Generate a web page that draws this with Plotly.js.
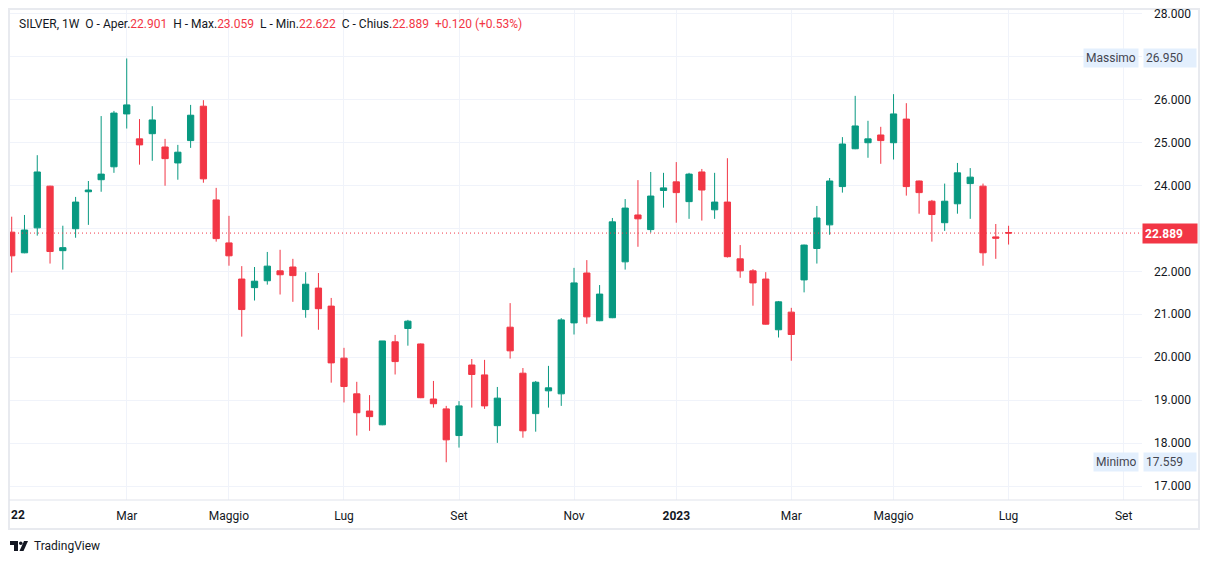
<!DOCTYPE html>
<html>
<head>
<meta charset="utf-8">
<script src="https://cdn.plot.ly/plotly-3.0.1.min.js"></script>
<style>
  html, body { margin: 0; padding: 0; background: #ffffff; }
  #chart { width: 1209px; height: 564px; }
</style>
</head>
<body>
<div id="chart"></div>
<script>
// Weekly candles, SILVER 1W
const dates = [
  '2022-01-03','2022-01-10','2022-01-17','2022-01-24','2022-01-31','2022-02-07','2022-02-14','2022-02-21','2022-02-28','2022-03-07',
  '2022-03-14','2022-03-21','2022-03-28','2022-04-04','2022-04-11','2022-04-18','2022-04-25','2022-05-02','2022-05-09','2022-05-16',
  '2022-05-23','2022-05-30','2022-06-06','2022-06-13','2022-06-20','2022-06-27','2022-07-04','2022-07-11','2022-07-18','2022-07-25',
  '2022-08-01','2022-08-08','2022-08-15','2022-08-22','2022-08-29','2022-09-05','2022-09-12','2022-09-19','2022-09-26','2022-10-03',
  '2022-10-10','2022-10-17','2022-10-24','2022-10-31','2022-11-07','2022-11-14','2022-11-21','2022-11-28','2022-12-05','2022-12-12',
  '2022-12-19','2022-12-26','2023-01-02','2023-01-09','2023-01-16','2023-01-23','2023-01-30','2023-02-06','2023-02-13','2023-02-20',
  '2023-02-27','2023-03-06','2023-03-13','2023-03-20','2023-03-27','2023-04-03','2023-04-10','2023-04-17','2023-04-24','2023-05-01',
  '2023-05-08','2023-05-15','2023-05-22','2023-05-29','2023-06-05','2023-06-12','2023-06-19','2023-06-26','2023-07-03'
];
const openV = [
  22.91,22.43,23.01,23.98,22.48,22.99,23.85,24.13,24.43,25.66,
  25.08,25.20,24.89,24.52,25.04,25.84,23.66,22.66,21.82,21.62,
  21.78,22.01,22.10,21.11,21.61,21.19,19.98,19.15,18.75,18.43,
  20.36,20.67,20.31,19.03,18.80,18.18,19.82,19.59,18.41,20.70,
  19.63,18.69,19.22,19.15,20.80,21.96,20.85,20.92,22.22,23.31,
  22.97,23.88,24.08,23.62,24.31,23.43,23.61,22.29,22.01,21.82,
  20.64,21.05,21.80,22.53,23.08,23.97,24.85,24.99,25.17,24.99,
  25.54,24.10,23.63,23.13,23.57,24.04,23.98,22.80,22.901
];
const highV = [
  23.27,23.31,24.70,23.99,23.06,23.73,24.10,25.61,25.73,26.95,
  25.54,25.84,25.08,24.94,25.87,25.98,23.94,23.29,22.12,22.10,
  22.45,22.50,22.29,21.98,21.96,21.38,20.22,19.43,19.12,20.38,
  20.52,20.87,20.32,19.45,18.87,18.98,19.96,19.94,19.31,21.26,
  19.75,19.45,19.80,20.91,22.08,22.26,21.68,23.24,23.68,24.12,
  24.31,24.29,24.54,24.29,24.38,24.29,24.63,22.61,22.05,21.98,
  21.31,21.15,22.62,23.52,24.17,25.12,26.08,25.50,25.36,26.12,
  25.91,24.11,23.66,24.04,24.52,24.40,24.04,23.10,23.059
];
const lowV = [
  21.97,22.42,22.83,22.18,22.04,22.78,23.08,23.85,24.29,25.32,
  24.48,24.57,23.99,24.13,24.87,24.06,22.69,22.13,20.48,21.32,
  21.69,21.46,21.29,20.92,20.64,19.41,18.95,18.18,18.29,18.42,
  19.60,20.27,19.05,18.83,17.559,17.90,18.83,18.80,18.01,19.97,
  18.13,18.27,18.83,18.87,20.53,20.78,20.84,20.91,22.04,22.57,
  22.90,23.48,23.13,23.22,23.18,23.22,22.32,21.85,21.20,20.76,
  20.46,19.92,21.51,22.18,22.85,23.83,24.84,24.64,24.50,24.60,
  23.76,23.34,22.69,22.94,23.34,23.22,22.13,22.29,22.622
];
const closeV = [
  22.36,22.96,24.31,22.46,22.55,23.61,23.89,24.26,25.68,25.87,
  24.94,25.52,24.62,24.77,25.63,24.15,22.76,22.36,21.11,21.77,
  22.12,21.92,21.90,21.70,21.13,19.87,19.32,18.71,18.62,20.38,
  19.90,20.84,19.06,18.92,18.08,18.87,19.60,18.87,19.05,20.15,
  18.29,19.42,19.29,20.87,21.73,20.94,21.47,23.15,23.47,23.22,
  23.75,23.94,23.83,24.26,23.89,23.61,22.34,22.01,21.73,20.77,
  21.29,20.53,22.61,23.24,24.10,24.96,25.38,25.08,25.04,25.66,
  23.97,23.83,23.32,23.63,24.29,24.19,22.43,22.77,22.889
];
const xTickVals = ['2022-03-07','2022-05-02','2022-07-04','2022-09-05','2022-11-07','2023-01-02','2023-03-06','2023-05-01','2023-07-03','2023-09-04'];
const xTickText = ['Mar','Maggio','Lug','Set','Nov','<b>2023</b>','Mar','Maggio','Lug','Set'];
const yTickVals = [17,18,19,20,21,22,23,24,25,26,27,28];
const yTickText = ['17.000','18.000','19.000','20.000','21.000','22.000','','24.000','25.000','26.000','','28.000'];
const lastPrice = 22.889;
const maxPrice = 26.950;
const minPrice = 17.559;
const header = {sym: 'SILVER, 1W', o: '22.901', h: '23.059', l: '22.622', c: '22.889', chg: '+0.120 (+0.53%)'};

const UP = '#089981', DOWN = '#f23645', TXT = '#131722';
// pixel -> paper helpers (plot area: x 10..1142, y 10..500)
const W = 1132, H = 490;
const px = X => (X - 10) / W;
const py = Y => (500 - Y) / H;

const trace = {
  type: 'candlestick',
  x: dates, open: openV, high: highV, low: lowV, close: closeV,
  increasing: {line: {color: UP, width: 1}, fillcolor: UP},
  decreasing: {line: {color: DOWN, width: 1}, fillcolor: DOWN},
  whiskerwidth: 0,
  hoverinfo: 'skip'
};

const red = s => `<span style="color:${DOWN}">${s}</span>`;
const sp = '&nbsp;&nbsp;';
const headerText = `${header.sym}${sp}O - Aper.${red(header.o)}${sp}H - Max.${red(header.h)}${sp}L - Min.${red(header.l)}${sp}C - Chius.${red(header.c)}${sp}${red(header.chg)}`;

const boxFont = {family: 'Roboto, sans-serif', size: 12, color: '#434651'};
const annotations = [
  {xref: 'paper', yref: 'paper', x: px(17), y: py(24), xanchor: 'left', yanchor: 'middle', showarrow: false,
   text: headerText, font: {family: 'Roboto, sans-serif', size: 12, color: TXT}},
  // clipped year label at left edge
  {xref: 'paper', yref: 'paper', x: px(9), y: py(515), xanchor: 'left', yanchor: 'middle', showarrow: false,
   text: '<b>22</b>', font: {family: 'Roboto, sans-serif', size: 12, color: TXT}},
  // last price
  {xref: 'paper', yref: 'y', x: px(1142), y: lastPrice, xanchor: 'left', yanchor: 'middle', showarrow: false,
   text: '<b>' + lastPrice.toFixed(3) + '</b>', bgcolor: DOWN, width: 50, height: 15, borderpad: 2, align: 'left',
   font: {family: 'Roboto, sans-serif', size: 12, color: '#ffffff'}},
  // max
  {xref: 'paper', yref: 'y', x: px(1143), y: maxPrice, xanchor: 'left', yanchor: 'middle', showarrow: false,
   text: maxPrice.toFixed(3), bgcolor: '#e3effd', width: 48, height: 14, borderpad: 2, align: 'left', font: boxFont},
  {xref: 'paper', yref: 'y', x: px(1139), y: maxPrice, xanchor: 'right', yanchor: 'middle', showarrow: false,
   text: 'Massimo', bgcolor: '#e3effd', height: 14, borderpad: 2, font: boxFont},
  // min
  {xref: 'paper', yref: 'y', x: px(1143), y: minPrice, xanchor: 'left', yanchor: 'middle', showarrow: false,
   text: minPrice.toFixed(3), bgcolor: '#e3effd', width: 48, height: 14, borderpad: 2, align: 'left', font: boxFont},
  {xref: 'paper', yref: 'y', x: px(1139), y: minPrice, xanchor: 'right', yanchor: 'middle', showarrow: false,
   text: 'Minimo', bgcolor: '#e3effd', height: 14, borderpad: 2, font: boxFont},
  // TradingView brand
  {xref: 'paper', yref: 'paper', x: px(32), y: py(546), xanchor: 'left', yanchor: 'middle', showarrow: false,
   text: 'TradingView', font: {family: 'Roboto, sans-serif', size: 12, color: TXT}}
];

const shapes = [
  // last price dotted line
  {type: 'line', xref: 'paper', yref: 'y', x0: 0, x1: 1, y0: lastPrice, y1: lastPrice,
   line: {color: DOWN, width: 1, dash: '1px,3px'}},
  // outer frame
  {type: 'rect', xref: 'paper', yref: 'paper', x0: px(9), x1: px(1199), y0: py(529), y1: py(9),
   line: {color: '#e8eaef', width: 2}, layer: 'below'},
  // x axis separator
  {type: 'line', xref: 'paper', yref: 'paper', x0: px(9), x1: px(1199), y0: py(500), y1: py(500),
   line: {color: '#e0e3eb', width: 1}},
  // TV logo
  {type: 'rect', xref: 'paper', yref: 'paper', x0: px(10), x1: px(18), y0: py(545), y1: py(541),
   fillcolor: TXT, line: {width: 0}},
  {type: 'rect', xref: 'paper', yref: 'paper', x0: px(14), x1: px(18), y0: py(551), y1: py(541),
   fillcolor: TXT, line: {width: 0}},
  {type: 'circle', xref: 'paper', yref: 'paper', x0: px(19), x1: px(22.5), y0: py(545), y1: py(541.5),
   fillcolor: TXT, line: {width: 0}},
  {type: 'path', xref: 'paper', yref: 'paper',
   path: `M ${px(19.5)} ${py(551)} L ${px(24)} ${py(541)} L ${px(28)} ${py(541)} L ${px(23.5)} ${py(551)} Z`,
   fillcolor: TXT, line: {width: 0}}
];

const layout = {
  width: 1209, height: 564,
  margin: {l: 10, r: 67, t: 10, b: 64, pad: 0},
  paper_bgcolor: '#ffffff', plot_bgcolor: '#ffffff',
  showlegend: false, hovermode: false, dragmode: false,
  font: {family: 'Roboto, sans-serif', size: 12, color: TXT},
  xaxis: {
    type: 'date', range: ['2022-01-02 01:40', '2023-09-14 02:00'],
    rangeslider: {visible: false},
    tickmode: 'array', tickvals: xTickVals, ticktext: xTickText,
    showgrid: true, gridcolor: '#f0f3fa', gridwidth: 1,
    zeroline: false, showline: false, ticks: '', tickangle: 0,
    ticklabelstandoff: 7,
    tickfont: {family: 'Roboto, sans-serif', size: 12, color: TXT}
  },
  yaxis: {
    side: 'right', range: [16.681, 28.077],
    tickmode: 'array', tickvals: yTickVals, ticktext: yTickText,
    showgrid: true, gridcolor: '#f0f3fa', gridwidth: 1,
    zeroline: false, showline: false, ticks: '',
    ticklabelstandoff: 11,
    tickfont: {family: 'Roboto, sans-serif', size: 12, color: TXT}
  },
  annotations: annotations,
  shapes: shapes
};

Plotly.newPlot('chart', [trace], layout, {displayModeBar: false, staticPlot: true});
</script>
</body>
</html>
